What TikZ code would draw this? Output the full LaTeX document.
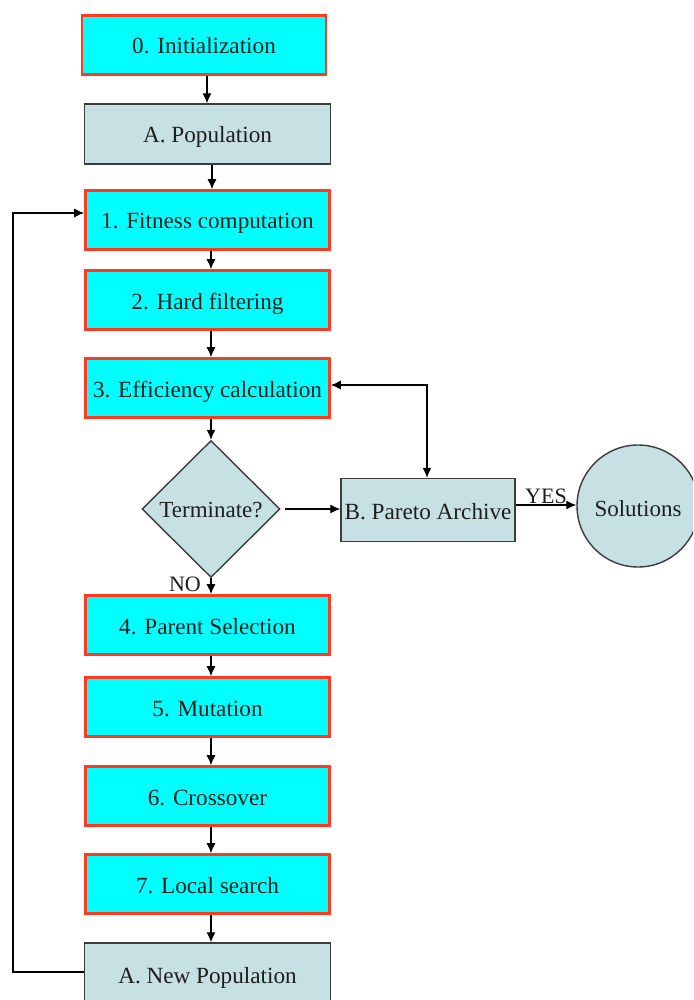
\documentclass[tikz,border=0pt]{standalone}
\usepackage{fontspec}
\setmainfont{Liberation Serif}
\newfontfamily\tnr{Liberation Serif}
\usetikzlibrary{shapes.geometric,arrows.meta}
\definecolor{cyanfill}{HTML}{00FFFF}
\definecolor{redline}{HTML}{FF3A1E}
\definecolor{grayfill}{HTML}{C6E0E4}
\definecolor{grayline}{HTML}{3C3C3C}
\definecolor{txt}{HTML}{1E1E1E}
\tikzset{
  stepbox/.style={draw=redline, fill=cyanfill, line width=2.6pt, minimum width=244pt, minimum height=59pt, inner sep=0pt, text=txt, text height=19pt, text depth=1pt, font=\tnr\fontsize{23.2}{26}\selectfont},
  databox/.style={draw=grayline, fill=grayfill, line width=1.4pt, minimum width=246pt, minimum height=60pt, inner sep=0pt, text=txt, text height=19pt, text depth=1pt, font=\tnr\fontsize{23.2}{26}\selectfont},
  conn/.style={draw=black, line width=1.2pt, -{Latex[length=10pt,width=9pt]}},
  lbl/.style={text=txt, font=\tnr\fontsize{22}{24}\selectfont, inner sep=0pt}
}
\begin{document}
\begin{tikzpicture}[x=1pt,y=-1pt]
\useasboundingbox (0,0) rectangle (693,1000);
\fill[white] (0,0) rectangle (693,1000);
\begin{scope}
\clip (0,0) rectangle (693,1000);
\node[stepbox] (init) at (204,45) {0. Initialization};
\node[databox] (pop) at (207.5,134) {A. Population};
\node[stepbox] (fit) at (207.5,220) {1. Fitness computation};
\node[stepbox] (hard) at (207.5,300) {2. Hard filtering};
\node[stepbox] (eff) at (207.5,388) {3. Efficiency calculation};
\node[diamond, aspect=1, draw=grayline, fill=grayfill, line width=1.4pt, minimum width=138pt, minimum height=137pt, inner sep=0pt, text=txt, text height=18pt, text depth=2pt, font=\tnr\fontsize{23}{26}\selectfont] (dec) at (211,509) {Terminate?};
\node[databox, minimum width=174pt, minimum height=63pt] (par) at (428,510) {B. Pareto Archive};
\node[circle, draw=grayline, fill=grayfill, line width=1.4pt, minimum size=122pt, inner sep=0pt, text=txt, text height=21pt, text depth=0pt, font=\tnr\fontsize{23}{26}\selectfont] (sol) at (638,506) {Solutions};
\node[stepbox] (psel) at (207.5,625) {4. Parent Selection};
\node[stepbox] (mut) at (207.5,707) {5. Mutation};
\node[stepbox] (cross) at (207.5,796) {6. Crossover};
\node[stepbox] (local) at (207.5,884) {7. Local search};
\node[databox, minimum height=62pt] (newpop) at (207.5,974) {A. New Population};

\coordinate (loopa) at (13,972);
\coordinate (loopb) at (13,213);
\coordinate (corner) at (427,385);

\draw[conn] (init.south -| 207,0) -- (pop.north -| 207,0);
\draw[conn] (pop.south -| 212,0) -- (fit.north -| 212,0);
\draw[conn] (fit.south -| 211,0) -- (hard.north -| 211,0);
\draw[conn] (hard.south -| 211,0) -- (eff.north -| 211,0);
\draw[conn] (eff.south -| 211,0) -- (dec.north);
\draw[conn] (dec.south) -- (psel.north -| 211,0);
\draw[conn] (psel.south -| 211,0) -- (mut.north -| 211,0);
\draw[conn] (mut.south -| 211,0) -- (cross.north -| 211,0);
\draw[conn] (cross.south -| 211,0) -- (local.north -| 211,0);
\draw[conn] (local.south -| 211,0) -- (newpop.north -| 211,0);
\draw[conn] (newpop.west |- loopa) -- (loopa) -- (loopb) -- (fit.west |- loopb);
\draw[conn, {Latex[length=10pt,width=9pt]}-{Latex[length=10pt,width=9pt]}] (eff.east |- corner) -- (corner) -- (par.north -| corner);
\draw[conn] ([xshift=4pt]dec.east) -- (par.west |- dec.east);
\draw[conn] (par.east |- 0,505) -- (sol.west |- 0,505) node[lbl, midway, above=1pt] (yes) {YES};
\node[lbl, anchor=east] (no) at (201,584) {NO};
\end{scope}
\end{tikzpicture}
\end{document}
